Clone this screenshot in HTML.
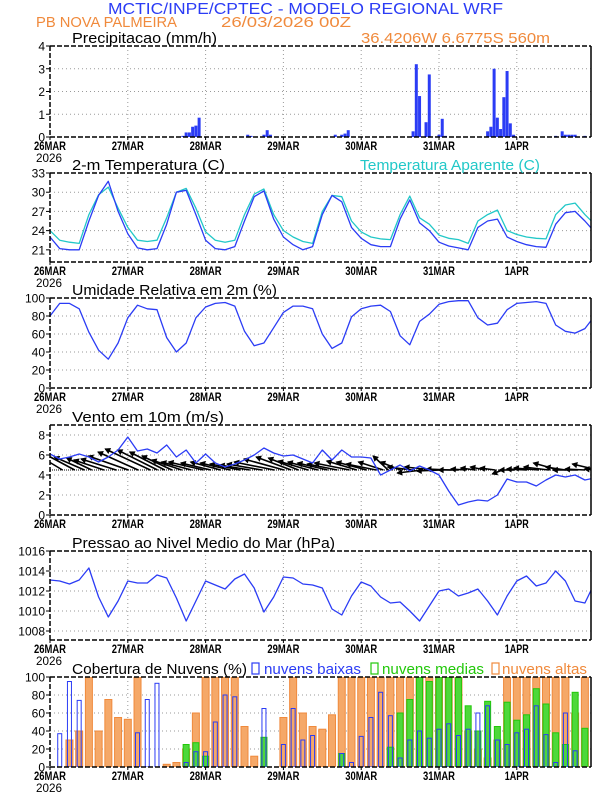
<!DOCTYPE html>
<html><head><meta charset="utf-8"><style>
html,body{margin:0;padding:0;background:#fff;}
svg{display:block;font-family:"Liberation Sans",sans-serif;}
</style></head><body>
<svg id="chart" width="612" height="792" viewBox="0 0 612 792" xmlns="http://www.w3.org/2000/svg">
<defs id="defs"></defs>
<text x="108" y="14" font-size="16" fill="#2b3cf5" textLength="395" lengthAdjust="spacingAndGlyphs">MCTIC/INPE/CPTEC - MODELO REGIONAL WRF</text>
<text x="36" y="27" font-size="15" fill="#f08a3c" textLength="141" lengthAdjust="spacingAndGlyphs">PB NOVA PALMEIRA</text>
<text x="221" y="27" font-size="15" fill="#f08a3c" textLength="130" lengthAdjust="spacingAndGlyphs">26/03/2026 00Z</text>
<text x="361" y="43" font-size="15" fill="#f08a3c" textLength="189" lengthAdjust="spacingAndGlyphs">36.4206W 6.6775S 560m</text>
<g id="plots"></g>
</svg>
<script>
// ---------- data (3-hourly unless noted) ----------
const hours3 = [];for(let i=0;i<=56;i++)hours3.push(i*3);
const dayLabels = ["26MAR","27MAR","28MAR","29MAR","30MAR","31MAR","1APR"];
const precipHours = [41,42,43,44,45,46,61,62,66,67,68,88,90,91,92,112,113,114,116,117,120,121,122,135,136,137,138,139,140,141,142,143,156,158,159,160,161,162,165];
const precipValues = [0.05,0.2,0.2,0.45,0.5,0.85,0.1,0.05,0.1,0.3,0.1,0.1,0.1,0.15,0.3,0.25,3.2,1.8,0.65,2.75,0.1,0.8,0.05,0.25,0.45,3.0,0.85,0.35,1.75,2.9,0.6,0.1,0.05,0.25,0.1,0.1,0.1,0.1,0.05];
const tempValues = [23.0,21.2,21.0,21.0,25.5,29.5,31.7,27.0,23.5,21.3,21.0,21.2,25.0,30.0,30.3,26.5,22.5,21.2,21.0,21.5,25.5,29.3,30.2,25.8,23.0,21.8,21.0,21.5,26.5,29.5,28.5,24.5,22.8,21.8,21.5,21.5,25.8,28.8,25.2,24.0,22.2,21.6,21.3,21.0,24.5,25.5,25.8,23.0,22.3,21.8,21.5,21.4,25.0,26.8,27.0,25.5,23.8];
const appTempValues = [24.0,22.5,22.2,22.0,26.5,29.6,30.8,27.5,24.5,22.5,22.3,22.5,26.0,30.0,30.6,27.5,23.8,22.5,22.2,22.5,26.5,29.7,30.5,26.5,24.0,23.0,22.3,22.0,27.0,29.5,29.3,25.5,23.8,23.0,22.7,22.6,26.5,29.4,26.0,25.0,23.3,22.8,22.6,22.0,25.5,26.5,27.2,24.0,23.4,23.0,22.8,22.7,26.5,28.0,28.3,26.5,25.0];
const rhValues = [80,94,94,88,62,42,32,50,78,92,88,87,56,40,50,78,90,94,95,91,63,47,50,67,84,91,91,88,60,44,50,79,88,91,92,85,58,48,74,82,93,96,97,97,78,70,72,87,94,95,96,94,70,63,61,66,80];
const windSpeed = [6.1,5.6,5.8,6.1,5.8,5.3,5.8,6.5,7.8,6.4,6.6,6.2,7.0,5.8,6.5,5.2,6.1,5.2,4.8,5.1,5.5,6.0,6.7,6.2,5.9,6.0,5.6,5.2,6.5,5.5,6.5,5.8,5.8,5.7,4.0,4.5,5.0,4.4,4.9,4.5,4.0,2.4,1.0,1.3,1.5,1.4,2.0,3.6,3.3,3.3,2.9,3.5,4.0,3.8,4.0,3.5,3.7];
const windU = [-2.5,-3,-3,-2.5,-3,-3.5,-4,-4,-4.5,-4,-3.5,-3,-3,-3,-3.5,-3,-3,-3,-3,-3,-3.5,-4,-4,-3.5,-3,-3,-3,-3,-3,-3.5,-3,-3,-3,-2.5,-1.5,-2,-2.5,-2.5,-3,-2.5,-2.5,-2,-1.5,-1.5,-1.5,-1.5,-1,-1.5,-2,-2.5,-2.5,-2.5,-2,-2.5,-2,-2.5,-2];
const windV = [1.5,1.6,1.3,1.2,1.0,1.1,1.4,1.8,2.1,2.0,1.8,1.4,1.0,0.8,0.8,0.7,0.8,0.7,0.6,0.5,0.6,0.8,1.1,1.3,1.2,0.9,0.8,0.7,0.6,0.7,0.9,0.8,0.6,0.8,1.4,0.8,0.3,-0.3,0.3,-0.1,0.1,0.0,0.1,0.2,0.3,0.2,-0.4,0.0,0.1,0.2,0.3,0.7,0.3,0.0,0.1,0.6,0.1];
const pressValues = [1013.1,1013.0,1012.7,1013.1,1014.3,1011.4,1009.4,1011.0,1013.0,1012.8,1012.8,1013.6,1013.3,1011.3,1009.0,1011.0,1013.0,1012.6,1012.2,1013.2,1013.7,1012.3,1009.9,1011.4,1013.4,1013.3,1012.7,1012.6,1012.3,1010.2,1009.6,1011.5,1012.9,1012.5,1011.4,1010.8,1010.9,1010.0,1009.0,1010.5,1012.0,1012.2,1011.5,1011.8,1012.2,1011.0,1009.6,1011.5,1013.0,1013.5,1012.5,1012.8,1014.0,1013.0,1011.0,1010.8,1012.8];
const cloudLow = [0,37,95,74,0,0,0,0,0,38,75,93,0,0,5,17,17,50,80,78,0,0,65,0,25,65,30,35,0,0,15,5,34,55,83,57,10,30,40,32,42,48,35,42,60,68,30,25,38,42,68,36,5,60,18,0,3];
const cloudMid = [0,0,0,0,0,0,0,0,0,0,0,0,0,0,25,27,12,0,0,0,0,0,33,0,0,0,0,0,0,0,15,0,0,0,0,22,60,75,100,95,100,100,100,68,40,73,45,72,52,58,87,70,38,25,83,43,40];
const cloudHigh = [0,0,30,40,100,40,75,55,53,100,0,0,3,5,20,60,100,100,100,100,45,12,0,0,55,100,60,45,42,58,100,100,100,100,100,100,100,100,100,100,100,100,100,40,20,10,30,100,100,100,100,100,100,100,60,100,100];

// ---------- layout ----------
const NS="http://www.w3.org/2000/svg";
const X0=50, X1=591, PXH=77.8/24;
function xs(h){return X0+h*PXH;}
const root=document.getElementById('plots');
const defs=document.getElementById('defs');
function mk(tag,attrs,parent){const e=document.createElementNS(NS,tag);for(const k in attrs)e.setAttribute(k,attrs[k]);(parent||root).appendChild(e);return e;}

function panel(name,top,bot,ymin,ymax,ticks,title,titleLen,yr){
  const g=mk('g',{});
  
  
  const ys=v=>bot-(v-ymin)/(ymax-ymin)*(bot-top);
  const cp=mk('clipPath',{id:'clip-'+name},defs);
  mk('rect',{x:X0,y:top,width:X1-X0,height:bot-top},cp);
  for(let d=1;d<7;d++){const l=mk('line',{x1:xs(d*24),x2:xs(d*24),y1:top,y2:bot,stroke:'#9a9a9a','stroke-dasharray':'1,3'},g);
    }
  ticks.forEach(t=>{
    if(t>ymin&&t<ymax){const l=mk('line',{x1:X0,x2:X1,y1:ys(t),y2:ys(t),stroke:'#9a9a9a','stroke-dasharray':'1,3'},g);
      }
    const tk=mk('line',{x1:X0-4,x2:X0,y1:ys(t),y2:ys(t),stroke:'#000'},g);
    
    const tl=mk('text',{x:X0-5,y:ys(t)+4.5,'font-size':12,'text-anchor':'end',fill:'#000'},g);
    tl.textContent=String(t);
    
  });
  dayLabels.forEach((lab,d)=>{
    const t=mk('text',{x:xs(d*24),y:bot+13,'font-size':12,'font-weight':'bold','text-anchor':'middle',fill:'#000',textLength:lab.length>4?32:24,lengthAdjust:'spacingAndGlyphs'},g);
    t.textContent=lab;
    
    const tk=mk('line',{x1:xs(d*24),x2:xs(d*24),y1:bot,y2:bot+3,stroke:'#000'},g);
    
  });
  if(yr){const t=mk('text',{x:49,y:bot+25,'font-size':12,'text-anchor':'middle',fill:'#000',textLength:26,lengthAdjust:'spacingAndGlyphs'},g);
    t.textContent='2026';}
  const tt=mk('text',{x:72,y:top-3,'font-size':15,fill:'#000',textLength:titleLen,lengthAdjust:'spacingAndGlyphs'},g);
  tt.textContent=title;
  
  const plot=mk('g',{'clip-path':'url(#clip-'+name+')'},g);
  
  return {g,plot,ys,top,bot};
}
function frame(p){
  const f=mk('g',{},p.g);
  
  mk('line',{x1:X0,x2:X1,y1:p.top,y2:p.top,stroke:'#000','stroke-width':1.5,'stroke-dasharray':'5,2'},f);
  mk('line',{x1:X0,x2:X1,y1:p.bot,y2:p.bot,stroke:'#000','stroke-width':1.5,'stroke-dasharray':'5,2'},f);
  mk('line',{x1:X0,x2:X0,y1:p.top,y2:p.bot,stroke:'#000','stroke-width':1.5,'stroke-dasharray':'5,2'},f);
  mk('line',{x1:X1,x2:X1,y1:p.top,y2:p.bot,stroke:'#000','stroke-width':1.5},f);
}
function line(p,vals,color,name){
  const d=vals.map((v,i)=>(i?'L':'M')+xs(hours3[i]).toFixed(1)+','+p.ys(v).toFixed(1)).join('');
  const e=mk('path',{d,fill:'none',stroke:color,'stroke-width':1.3,'stroke-linejoin':'round'},p.plot);
  
}

// Precip
const p1=panel('precipitation',46,137,0,4,[0,1,2,3,4],'Precipitacao (mm/h)',145,true);
precipHours.forEach((h,i)=>{
  const y=p1.ys(precipValues[i]);
  const r=mk('rect',{x:xs(h)-1.5,y:y,width:3,height:p1.bot-y,fill:'#2b3cf5'},p1.plot);
  
});
frame(p1);

// Temperature
const p2=panel('temperature',173,262,19.1,33,[21,24,27,30,33],'2-m Temperatura (C)',153,true);
line(p2,appTempValues,'#22c8c8','apparent-temperature-line');
line(p2,tempValues,'#2b3cf5','temperature-line');
frame(p2);
const at=mk('text',{x:360,y:170,'font-size':15,fill:'#22c8c8',textLength:180,lengthAdjust:'spacingAndGlyphs'});
at.textContent='Temperatura Aparente (C)';


// RH
const p3=panel('humidity',298,388,0,100,[0,20,40,60,80,100],'Umidade Relativa em 2m (%)',205,true);
line(p3,rhValues,'#2b3cf5','humidity-line');
frame(p3);

// Wind
const p4=panel('wind',425,515,0,9,[0,2,4,6,8],'Vento em 10m (m/s)',152,false);
const base=4.5, sc=(p4.bot-p4.top)/9;
hours3.forEach((h,i)=>{
  const x=xs(h)-windU[i]*sc*0.5, y=p4.ys(base), x2=x+windU[i]*sc, y2=p4.ys(base+windV[i]);
  const gv=mk('g',{},p4.plot);
  
  mk('line',{x1:x,y1:y,x2:x2,y2:y2,stroke:'#000','stroke-width':1.6},gv);
  const a=Math.atan2(y2-y,x2-x);
  const hx1=x2-5*Math.cos(a-0.5),hy1=y2-5*Math.sin(a-0.5),hx2=x2-5*Math.cos(a+0.5),hy2=y2-5*Math.sin(a+0.5);
  mk('path',{d:`M${hx1},${hy1}L${x2},${y2}L${hx2},${hy2}Z`,fill:'#000',stroke:'#000','stroke-width':1},gv);
});
mk('line',{x1:X0,x2:X1,y1:p4.ys(base),y2:p4.ys(base),stroke:'#000','stroke-width':1,'stroke-dasharray':'1,1'},p4.plot);
line(p4,windSpeed,'#2b3cf5','wind-speed-line');
frame(p4);

// Pressure
const p5=panel('pressure',551,640,1007.1,1016,[1008,1010,1012,1014,1016],'Pressao ao Nivel Medio do Mar (hPa)',263,true);
line(p5,pressValues,'#2b3cf5','pressure-line');
frame(p5);

// Clouds
const p6=panel('cloud-cover',677,767,0,100,[0,20,40,60,80,100],'Cobertura de Nuvens (%)',175,true);
function bars(vals,fill,stroke,name,w){
  vals.forEach((v,i)=>{ if(v<=0)return;
    const y=p6.ys(v);
    const r=mk('rect',{x:xs(hours3[i])-w/2,y:y,width:w,height:p6.bot-y,fill:fill,stroke:stroke,'stroke-width':1},p6.plot);
    
  });
}
bars(cloudHigh,'#f5a868','#f08a3c','cloud-high-bar',7);
bars(cloudMid,'#4ed83a','#22c80a','cloud-mid-bar',6);
bars(cloudLow,'none','#2b3cf5','cloud-low-bar',4);
frame(p6);
const leg=[[252,264,97,'nuvens baixas','#2b3cf5','legend-low-clouds'],[371,382,102,'nuvens medias','#22c80a','legend-mid-clouds'],[492,502,85,'nuvens altas','#f08a3c','legend-high-clouds']];
leg.forEach(l=>{
  const g=mk('g',{});
  
  mk('rect',{x:l[0],y:663,width:7,height:11,fill:'none',stroke:l[4],'stroke-width':1.2},g);
  const t=mk('text',{x:l[1],y:674,'font-size':15,fill:l[4],textLength:l[2],lengthAdjust:'spacingAndGlyphs'},g);
  t.textContent=l[3];
});
</script>
</body></html>
